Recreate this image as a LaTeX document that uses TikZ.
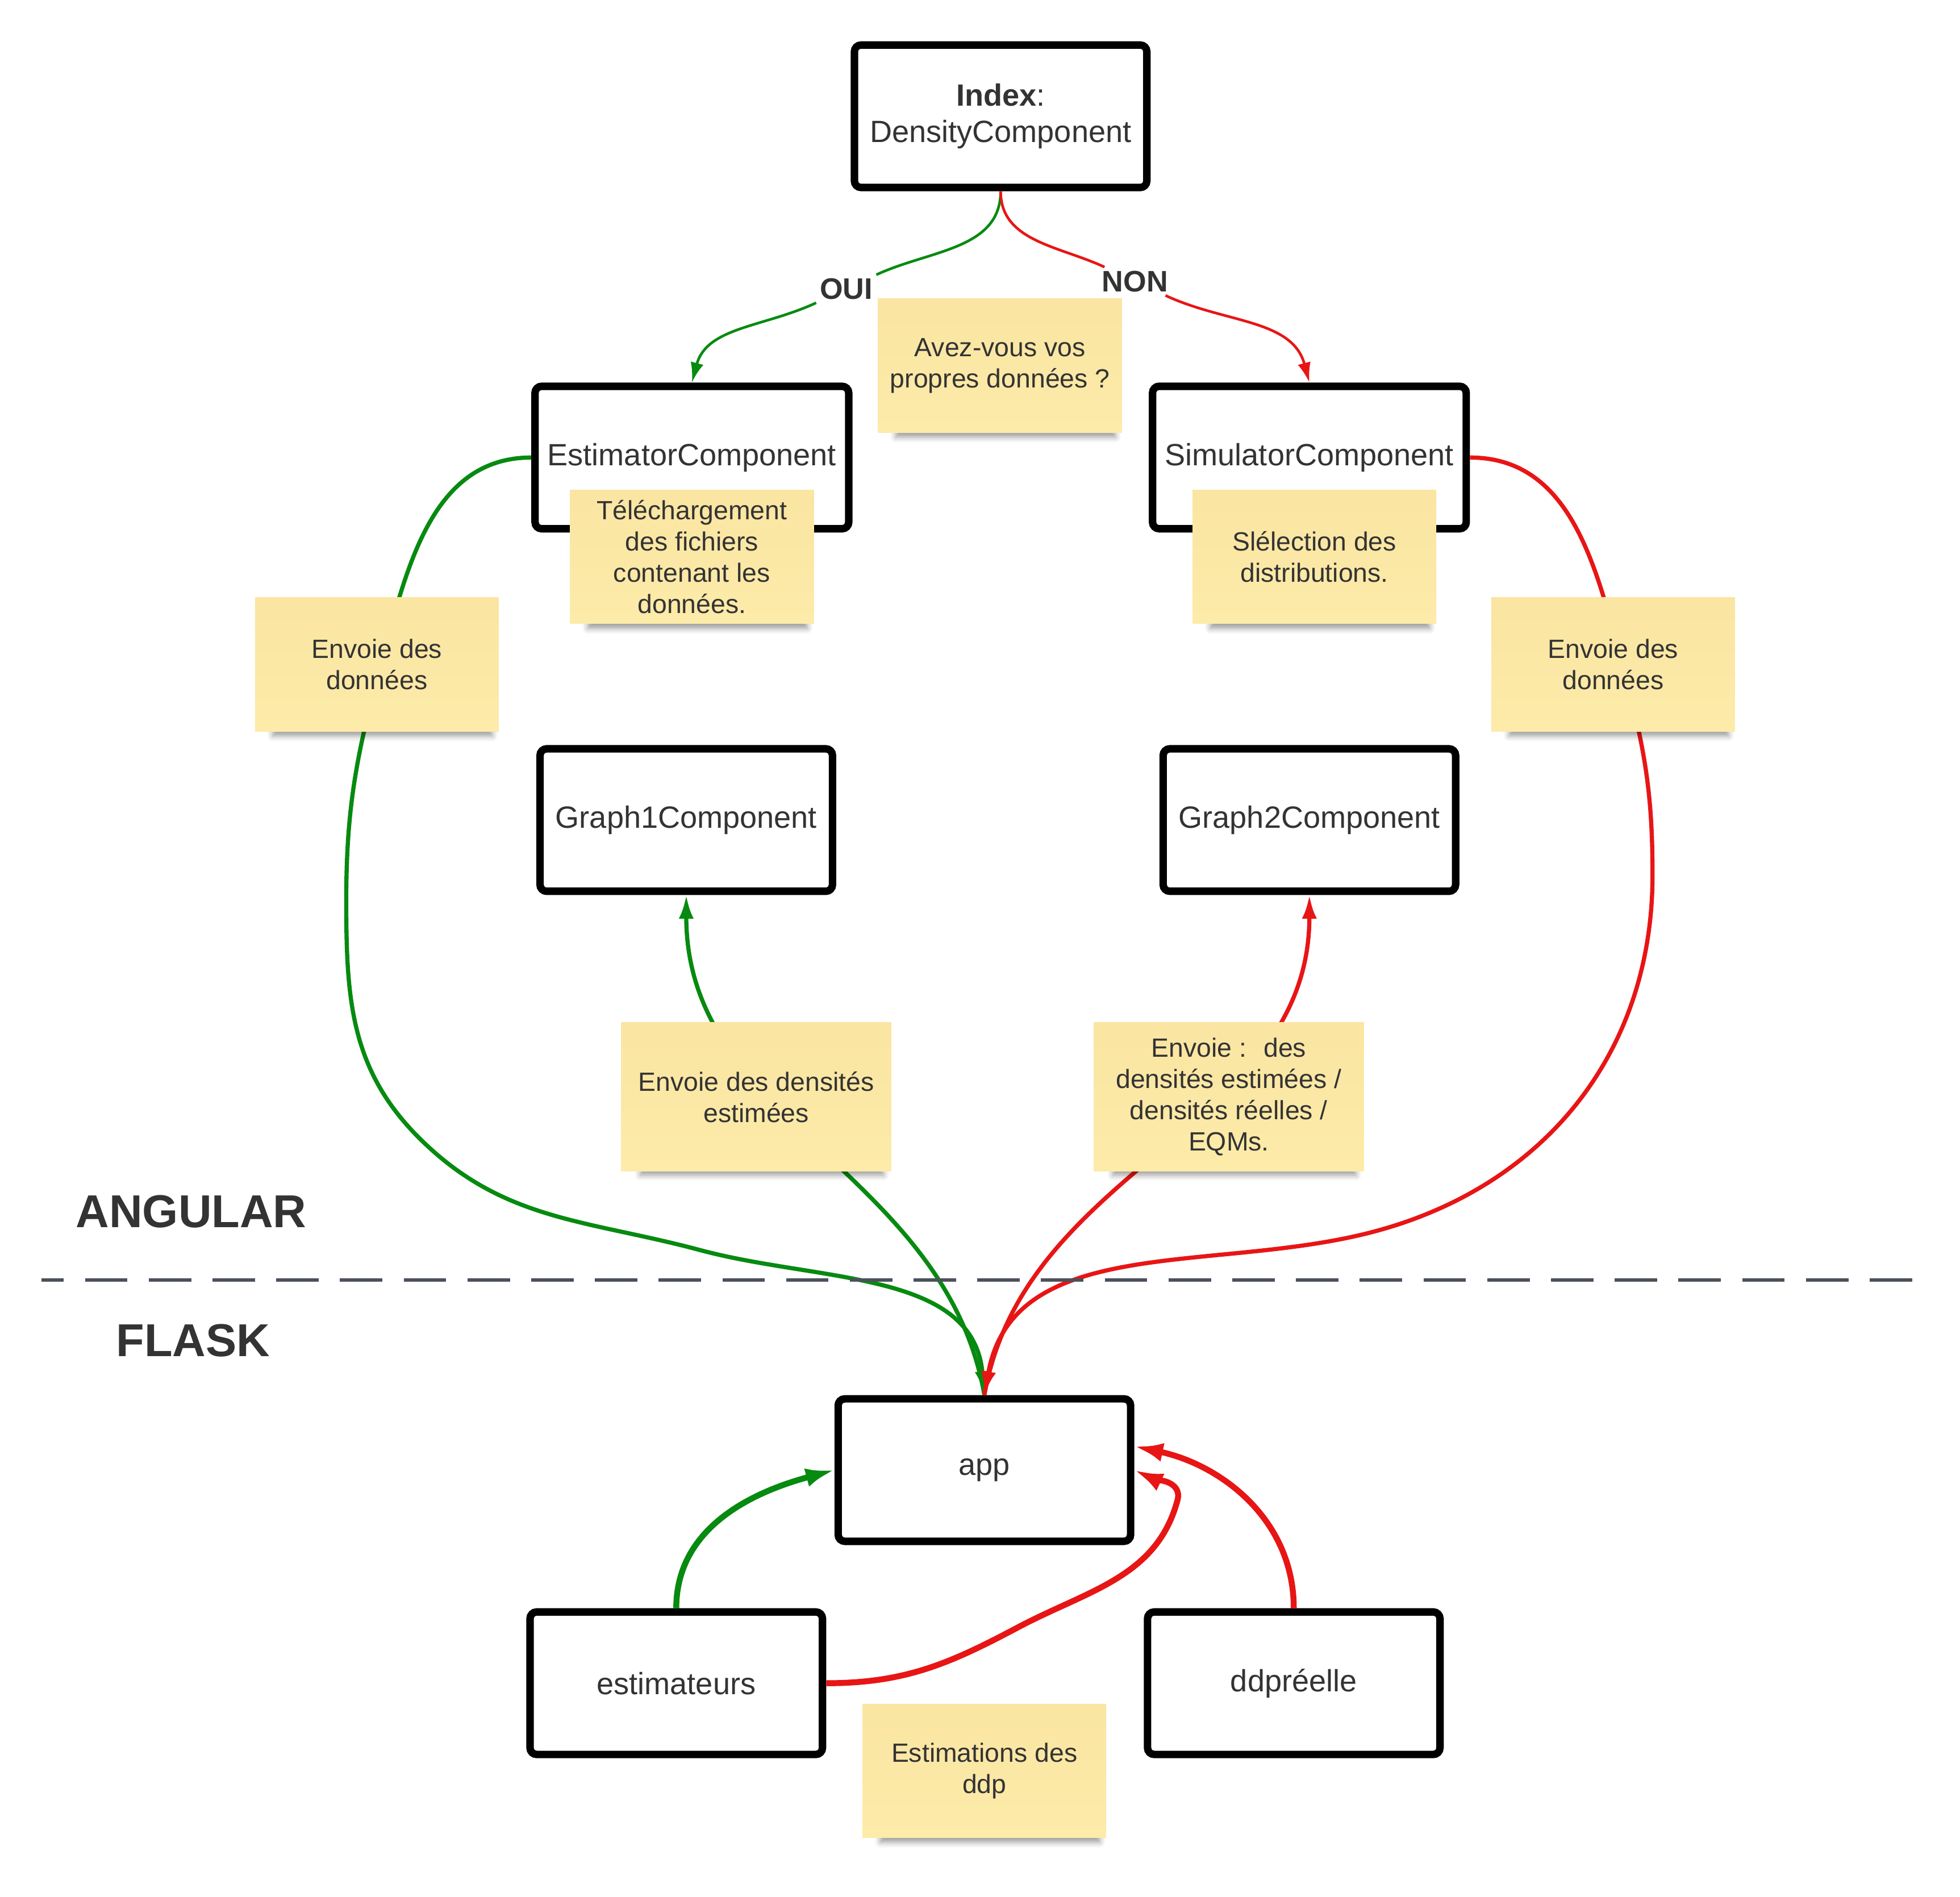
\documentclass[tikz,border=0pt]{standalone}
\usepackage{fontspec}
\setmainfont{Liberation Sans}
\usepackage{xcolor}
\usetikzlibrary{arrows.meta}
\usetikzlibrary{shadows,shadows.blur}
\definecolor{ink}{HTML}{333333}
\definecolor{yesgreen}{HTML}{068A10}
\definecolor{nored}{HTML}{E81515}
\definecolor{notetop}{HTML}{FAE5A2}
\definecolor{notebottom}{HTML}{FDEBA9}
\definecolor{sepgrey}{HTML}{4B515C}
\tikzset{%
    component/.style={inner sep=0pt,shape=rectangle,draw=black,line width=3.4pt,rounded corners=3pt,fill=white,minimum width=4.68cm,minimum height=2.28cm,align=center,text=ink,font=\fontsize{14}{16.5}\selectfont},
    wide component/.style={component,minimum width=5.02cm},
    note/.style={inner sep=0pt,shape=rectangle,top color=notetop,bottom color=notebottom,minimum width=3.9cm,minimum height=2.14cm,align=center,text=ink,font=\fontsize{12}{14.2}\selectfont,blur shadow={shadow xshift=0.1cm,shadow yshift=-0.2cm,shadow scale=0.9,shadow blur radius=0.1cm,shadow opacity=40}},
    big note/.style={note,minimum width=4.32cm,minimum height=2.38cm},
    answer/.style={inner sep=1.5pt,text=ink,font=\fontsize{13.5}{16}\selectfont\bfseries},
    layer/.style={inner sep=0pt,text=ink,font=\fontsize{21}{24}\selectfont\bfseries},
    thin link/.style={line width=1.2pt,-{Latex[length=0.32cm,width=0.21cm]}},
    link/.style={line width=1.9pt,-{Latex[length=0.38cm,width=0.24cm]}},
    thick link/.style={line width=2.7pt,-{Latex[length=0.46cm,width=0.3cm]}},
    sep line/.style={draw=sepgrey,line width=1.7pt,dash pattern=on 0.68cm off 0.34cm,dash phase=0.32cm},
}
\begin{document}
\begin{tikzpicture}[x=0.02cm,y=-0.02cm]
    \useasboundingbox (0,0) rectangle (1568,1517.5);
    \node [component] (index) at (800.5,93) {\textbf{Index}:\\DensityComponent};
    \node [wide component] (estimator) at (553.5,366) {EstimatorComponent};
    \node [wide component] (simulator) at (1047.5,366) {SimulatorComponent};
    \node [component] (graph1) at (549,656) {Graph1Component};
    \node [component] (graph2) at (1047.5,656) {Graph2Component};
    \node [component] (app) at (787.5,1176) {app};
    \node [component] (estimateurs) at (541,1346.5) {estimateurs};
    \node [component] (ddpreelle) at (1035,1346.5) {ddpréelle};

    \node [answer] (oui) at (677,231) {OUI};
    \node [answer] (non) at (908,225) {NON};
    \draw [thin link,yesgreen] (index.south) to[out=-90,in=25] (oui) to[out=205,in=75] (estimator.north);
    \draw [thin link,nored] (index.south) to[out=-90,in=155] (non) to[out=-25,in=105] (simulator.north);

    \draw [link,yesgreen] (estimator.west) to[out=180,in=75] (305,530) to[out=-105,in=90] (277,720) to[out=-90,in=135] (335,910) to[out=-45,in=165] (560,1000) to[out=-15,in=95] (app.north);
    \draw [link,yesgreen] (app.north) to[out=100,in=-90] (graph1.south);
    \draw [link,nored] (simulator.east) to[out=0,in=105] (1300,540) to[out=-75,in=90] (1322,700) to[out=-90,in=15] (1100,985) to[out=195,in=80] (app.north);
    \draw [link,nored] (app.north) to[out=80,in=-90] (graph2.south);

    \draw [thick link,yesgreen] (estimateurs.north) to[out=90,in=195] (app.west);
    \draw [thick link,nored] (estimateurs.east) to[out=0,in=-152] (814,1302) to[out=28,in=-105] (942,1200) to[out=75,in=-25] (app.east);
    \draw [thick link,nored] (ddpreelle.north) to[out=90,in=-12] (app.9);

    \draw [sep line] (33,1024) -- (1535,1024);
    \node [layer] (angular) at (153,969) {ANGULAR};
    \node [layer] (flask) at (154.5,1072.5) {FLASK};

    \node [note] (ask) at (800,292.5) {Avez-vous vos\\propres données ?};
    \node [note] (upload) at (553.5,445.5) {Téléchargement\\des fichiers\\contenant les\\données.};
    \node [note] (select) at (1051.5,445.5) {Slélection des\\distributions.};
    \node [note] (sendleft) at (301.5,531.5) {Envoie des\\données};
    \node [note] (sendright) at (1290.5,531.5) {Envoie des\\données};
    \node [big note] (densleft) at (605,877.5) {Envoie des densités\\estimées};
    \node [big note] (densright) at (983,877.5) {Envoie : \ des\\densités estimées /\\densités réelles /\\EQMs.};
    \node [note] (ddpnote) at (787.5,1416.5) {Estimations des\\ddp};
\end{tikzpicture}
\end{document}
